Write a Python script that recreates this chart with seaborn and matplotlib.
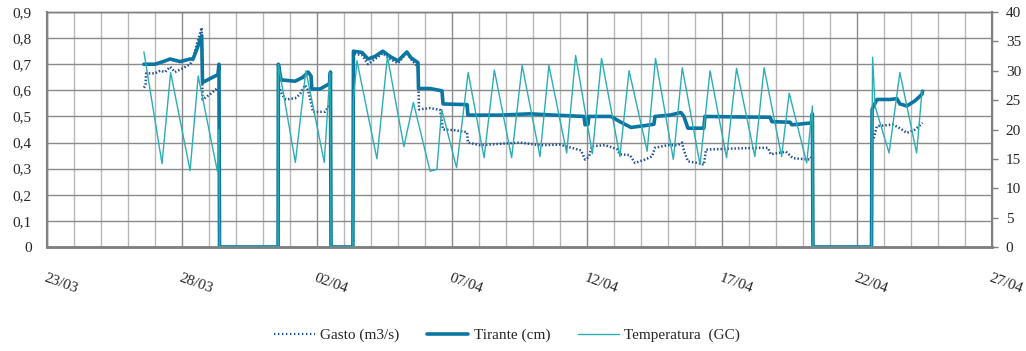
import pandas as pd
import numpy as np
import matplotlib
matplotlib.use('Agg')
import matplotlib.pyplot as plt
import matplotlib.dates as mdates
from matplotlib.ticker import MultipleLocator, FuncFormatter
from matplotlib.lines import Line2D
import seaborn as sns

# days counted from 23/03
start = pd.Timestamp('2010-03-23')

gasto_days = [3.59, 3.65, 3.67, 4.0, 4.19, 4.37, 4.56, 4.74, 5.04, 5.30, 5.41, 5.56, 5.73, 5.76, 6.04, 6.33, 6.37,
              6.39, 8.56,
              8.57, 8.70, 8.85, 9.19, 9.37, 9.56, 9.67, 9.81, 9.85, 10.30, 10.48, 10.50,
              10.52, 11.33,
              11.35, 11.67, 11.89, 12.15, 12.44, 12.70, 13.0, 13.33, 13.48, 13.74, 13.78, 14.19, 14.56, 14.67,
              15.11, 15.56, 15.59, 16.04, 16.78, 17.52, 18.26, 19.0, 19.78, 19.93, 20.07, 20.19, 20.67, 21.11,
              21.22, 21.59, 21.78, 22.15, 22.41, 22.52, 23.0, 23.37, 23.52, 23.59, 23.74, 24.19, 24.33, 24.41,
              25.67, 26.70, 26.81, 27.37, 27.63, 28.26, 28.35,
              28.37, 30.54,
              30.56, 30.63, 30.74, 31.33, 31.59, 31.85, 32.15, 32.43]
gasto = [0.61, 0.62, 0.665, 0.665, 0.675, 0.67, 0.69, 0.67, 0.685, 0.70, 0.72, 0.78, 0.84, 0.565, 0.585, 0.61, 0.61,
         0.0, 0.0,
         0.62, 0.585, 0.565, 0.57, 0.585, 0.62, 0.60, 0.54, 0.517, 0.518, 0.548, 0.55,
         0.0, 0.0,
         0.74, 0.735, 0.70, 0.72, 0.742, 0.72, 0.704, 0.745, 0.72, 0.69, 0.527, 0.532, 0.525, 0.45,
         0.447, 0.44, 0.40, 0.39, 0.395, 0.40, 0.39, 0.392, 0.37, 0.335, 0.345, 0.386, 0.39, 0.375,
         0.355, 0.352, 0.322, 0.335, 0.347, 0.38, 0.39, 0.39, 0.40, 0.37, 0.328, 0.32, 0.315, 0.373,
         0.378, 0.38, 0.355, 0.365, 0.34, 0.335, 0.35,
         0.0, 0.0,
         0.41, 0.42, 0.463, 0.469, 0.455, 0.437, 0.45, 0.475]

tirante_days = [3.59, 4.0, 4.30, 4.56, 4.93, 5.30, 5.41, 5.56, 5.73, 5.76, 6.04, 6.33, 6.37,
                6.39, 8.56,
                8.57, 8.67, 9.19, 9.48, 9.67, 9.78, 9.81, 10.11, 10.46, 10.50,
                10.52, 11.33,
                11.35, 11.67, 11.89, 12.15, 12.44, 12.70, 13.0, 13.33, 13.48, 13.74, 13.76, 14.19, 14.63, 14.67,
                15.56, 15.59, 16.78, 17.89, 18.81, 19.89, 19.93, 20.04, 20.07, 20.89, 21.22, 21.63, 22.15, 22.48,
                22.52, 23.07, 23.48, 23.59, 23.74, 24.33, 24.37, 25.67, 26.78, 26.85, 27.52, 27.59, 28.31, 28.35,
                28.37, 30.54,
                30.56, 30.74, 31.22, 31.48, 31.59, 31.85, 32.15, 32.41, 32.43]
tirante = [0.70, 0.70, 0.71, 0.72, 0.71, 0.72, 0.72, 0.76, 0.81, 0.63, 0.645, 0.66, 0.70,
           0.0, 0.0,
           0.70, 0.64, 0.635, 0.65, 0.67, 0.655, 0.605, 0.605, 0.625, 0.67,
           0.0, 0.0,
           0.75, 0.745, 0.72, 0.73, 0.75, 0.73, 0.713, 0.747, 0.725, 0.706, 0.607, 0.607, 0.598, 0.548,
           0.545, 0.505, 0.505, 0.51, 0.505, 0.50, 0.468, 0.47, 0.50, 0.50, 0.48, 0.458, 0.465, 0.47,
           0.50, 0.505, 0.515, 0.50, 0.455, 0.455, 0.50, 0.498, 0.497, 0.48, 0.478, 0.468, 0.475, 0.51,
           0.0, 0.0,
           0.527, 0.565, 0.565, 0.568, 0.548, 0.54, 0.56, 0.585, 0.597]

temp_days = [3.59, 4.26, 4.58, 5.30, 5.60, 6.31, 6.37,
             6.39, 8.56,
             8.57, 9.20, 9.59, 10.27, 10.48, 10.50,
             10.52, 11.33,
             11.35, 11.48, 12.22, 12.61, 13.22, 13.57, 14.19, 14.44, 14.62, 15.17, 15.60, 16.19, 16.57, 17.21,
             17.60, 18.26, 18.59, 19.25, 19.58, 20.20, 20.54, 21.22, 21.56, 22.23, 22.54, 23.20, 23.53, 24.19,
             24.56, 25.17, 25.54, 26.22, 26.56, 27.21, 27.49, 28.14, 28.35,
             28.37, 30.54,
             30.56, 30.58, 30.67, 31.19, 31.59, 32.21, 32.41]
temperatura = [33.2, 14.2, 29.7, 13.0, 29.1, 12.9, 20.0,
               0.0, 0.0,
               31.1, 14.4, 30.0, 14.4, 29.7, 20.0,
               0.0, 0.0,
               25.0, 31.7, 15.0, 32.4, 17.1, 24.6, 12.9, 13.2, 23.4, 13.5, 29.7, 15.2, 30.1, 15.2,
               30.9, 15.4, 30.9, 16.0, 32.6, 15.9, 32.1, 15.4, 30.0, 16.3, 32.1, 14.9, 30.5, 14.0,
               30.0, 15.2, 30.4, 15.4, 30.5, 15.4, 26.2, 14.3, 24.0,
               0.0, 0.0,
               20.0, 32.3, 24.0, 16.0, 29.7, 16.0, 26.5]

tick_labels = ['23/03', '28/03', '02/04', '07/04', '12/04', '17/04', '22/04', '27/04']


def to_dates(days):
    return start + pd.to_timedelta(np.array(days), unit='D')


c_gasto = '#1f4f99'
c_tirante = '#0c76a3'
c_temp = '#2aaeb4'

sns.set_style('white')
plt.rcParams['font.family'] = ['Liberation Serif', 'DejaVu Serif']

fig = plt.figure(figsize=(10.26, 3.51), dpi=100)
ax = fig.add_axes([0.0458, 0.2963, 0.9210, 0.6695])

sns.lineplot(x=to_dates(gasto_days), y=gasto, ax=ax, color=c_gasto, linewidth=1.8,
             linestyle=(0, (0.6, 0.8)), estimator=None, sort=False)
sns.lineplot(x=to_dates(tirante_days), y=tirante, ax=ax, color=c_tirante, linewidth=2.6,
             estimator=None, sort=False)

ax2 = ax.twinx()
sns.lineplot(x=to_dates(temp_days), y=temperatura, ax=ax2, color=c_temp, linewidth=1.0,
             estimator=None, sort=False)

x0 = start
x1 = start + pd.Timedelta(days=35)
ax.set_xlim(x0, x1)
ax.set_ylim(0, 0.9)
ax2.set_ylim(0, 40)

major = pd.date_range(x0, periods=8, freq='5D')
ax.set_xticks(major)
ax.set_xticklabels(tick_labels)
ax.xaxis.set_minor_locator(mdates.DayLocator())
ax.yaxis.set_major_locator(MultipleLocator(0.1))
ax.yaxis.set_major_formatter(FuncFormatter(lambda v, p: ('%.1f' % v).replace('.', ',') if v > 0 else '0'))
ax2.yaxis.set_major_locator(MultipleLocator(5))
ax2.yaxis.set_major_formatter(FuncFormatter(lambda v, p: '%d' % v))

ax.grid(which='major', axis='y', color='#8a8a8a', linewidth=1.0)
ax.grid(which='major', axis='x', color='#8a8a8a', linewidth=1.0)
ax.grid(which='minor', axis='x', color='#b8b8b8', linewidth=1.0)
ax.set_axisbelow(True)
ax2.grid(False)

ax.tick_params(axis='x', which='both', length=0, pad=18, labelsize=11)
ax.tick_params(axis='y', length=0, pad=11, labelsize=11)
ax2.tick_params(axis='y', length=4, width=1, color='#808080', pad=6, labelsize=11, direction='out')
for lab in ax.get_xticklabels():
    lab.set_rotation(-20)
    lab.set_ha('left')
    lab.set_va('top')
    lab.set_rotation_mode('anchor')

for a in (ax, ax2):
    for s in a.spines.values():
        s.set_color('#808080')
        s.set_linewidth(1.0)
ax.spines['bottom'].set_linewidth(2.0)
ax.spines['left'].set_linewidth(1.5)
ax2.spines['right'].set_linewidth(1.5)
ax.set_xlabel('')
ax.set_ylabel('')
ax2.set_ylabel('')

handles = [Line2D([], [], color=c_gasto, linewidth=1.6, linestyle=(0, (0.6, 1.2))),
           Line2D([], [], color=c_tirante, linewidth=2.6),
           Line2D([], [], color=c_temp, linewidth=1.0)]
fig.legend(handles, ['Gasto (m3/s)', 'Tirante (cm)', 'Temperatura  (GC)'], loc='center',
           bbox_to_anchor=(0.494, 0.045), ncol=3, frameon=False, fontsize=11,
           handlelength=2.7, columnspacing=1.8, handletextpad=0.35)

fig.savefig('out.png', dpi=100)
